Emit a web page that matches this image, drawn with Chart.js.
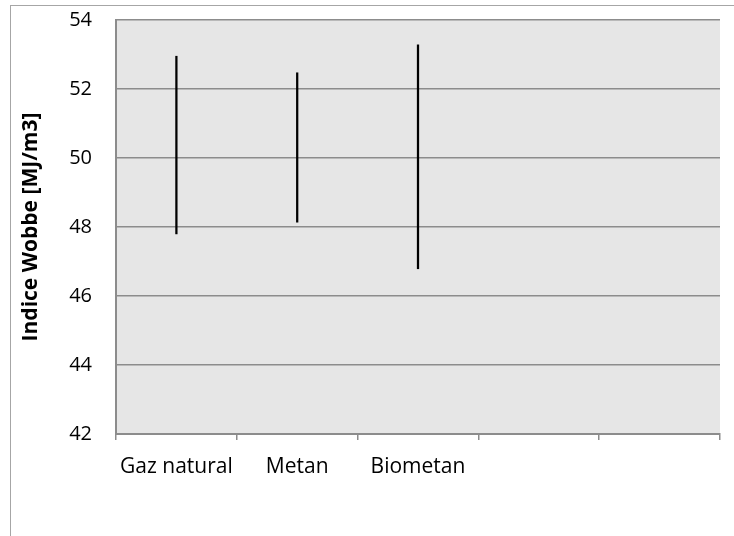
<!DOCTYPE html>
<html>
<head>
<meta charset="utf-8">
<script src="https://cdn.jsdelivr.net/npm/chart.js@4"></script>
<style>
  html, body { margin: 0; padding: 0; background: #ffffff; }
  #wrap { position: relative; width: 734px; height: 536px; overflow: hidden; }
  #frame { position: absolute; left: 10px; top: 5px; width: 740px; height: 560px; border: 1.5px solid #a6a6a6; box-sizing: border-box; }
  canvas { position: absolute; left: 0; top: 0; }
</style>
</head>
<body>
<div id="wrap">
  <div id="frame"></div>
  <canvas id="c" width="734" height="536"></canvas>
</div>
<script>
const categories = ['Gaz natural', 'Metan', 'Biometan', '', ''];
const minValues = [47.80, 48.14, 46.79, null, null];
const maxValues = [52.95, 52.47, 53.28, null, null];
const yTicks = [42, 44, 46, 48, 50, 52, 54];
const yTitle = 'Indice Wobbe [MJ/m3]';

const ranges = categories.map((c, i) =>
  minValues[i] === null ? null : [minValues[i], maxValues[i]]);

const plotBg = {
  id: 'plotBg',
  beforeDraw(chart) {
    const { ctx, chartArea: a } = chart;
    ctx.save();
    ctx.fillStyle = '#e6e6e6';
    ctx.fillRect(a.left, a.top, a.right - a.left, a.bottom - a.top);
    ctx.restore();
  }
};

new Chart(document.getElementById('c'), {
  type: 'bar',
  data: {
    labels: categories,
    datasets: [{
      data: ranges,
      backgroundColor: '#000000',
      borderWidth: 0,
      barThickness: 1.6
    }]
  },
  plugins: [plotBg],
  options: {
    responsive: false,
    animation: false,
    devicePixelRatio: 1,
    layout: { padding: { left: 10, top: 20, right: 14, bottom: 0 } },
    plugins: { legend: { display: false }, tooltip: { enabled: false } },
    scales: {
      x: {
        offset: true,
        grid: {
          offset: true,
          drawOnChartArea: false,
          drawTicks: true,
          tickLength: 6,
          color: '#8c8c8c',
          lineWidth: 1.5
        },
        border: { display: true, color: '#8c8c8c', width: 2 },
        ticks: {
          color: '#000000',
          font: { family: 'Open Sans', size: 21 },
          padding: 14,
          maxRotation: 0,
          autoSkip: false
        },
        afterFit(scale) {
          scale.height = 536 - 434;
          scale.paddingLeft = 0;
          scale.paddingRight = 0;
        }
      },
      y: {
        min: 42,
        max: 54,
        afterBuildTicks(scale) { scale.ticks = yTicks.map(v => ({ value: v })); },
        grid: {
          color: '#8c8c8c',
          lineWidth: 1.5,
          drawTicks: false
        },
        border: { display: true, color: '#8c8c8c', width: 2 },
        ticks: {
          color: '#000000',
          font: { family: 'Open Sans', size: 20 },
          padding: 24
        },
        title: {
          display: true,
          text: yTitle,
          color: '#000000',
          font: { family: 'Open Sans', size: 21, weight: 'bold' },
          padding: { top: 8, bottom: 0 }
        },
        afterFit(scale) {
          scale.width = 116 - 10;
          scale.paddingTop = 0;
          scale.paddingBottom = 0;
        }
      }
    }
  }
});
</script>
</body>
</html>
